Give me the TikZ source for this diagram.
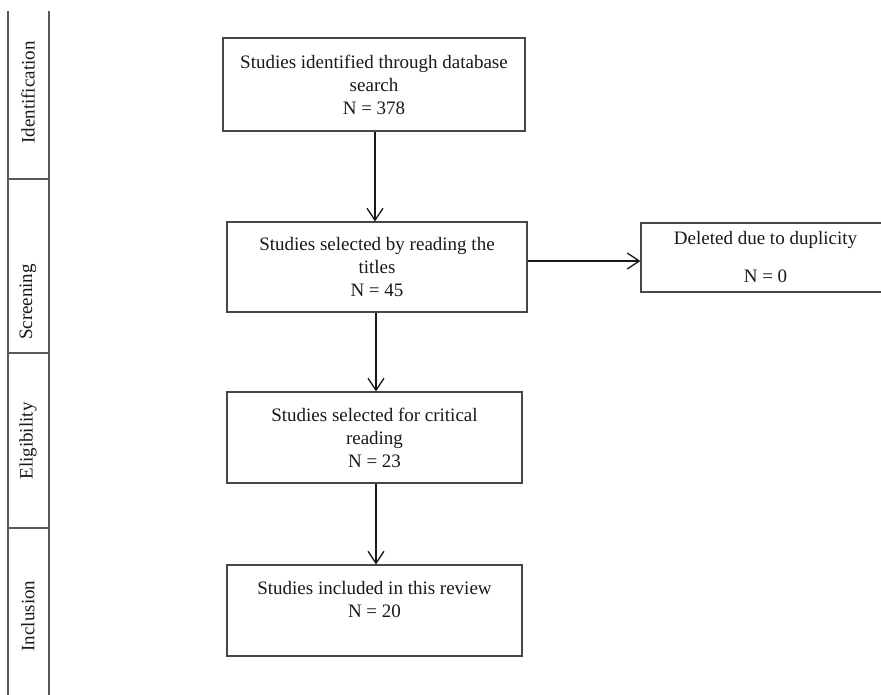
\documentclass[tikz,border=0pt]{standalone}
\usepackage{fontspec}
\setmainfont{Liberation Serif}
\usetikzlibrary{arrows.meta}
\begin{document}
\begin{tikzpicture}[x=1pt,y=-1pt,
  box/.style={draw=black!72, line width=1.1pt, rectangle, align=center, inner sep=0pt,
    font=\fontsize{19}{23}\selectfont, text=black!90},
  arr/.style={draw=black!90, line width=1.3pt, -{Straight Barb[length=12pt,width=16pt,line width=1.3pt]}},
  band/.style={draw=black!65, line width=1.1pt},
  phase/.style={rotate=90, font=\fontsize{19}{23}\selectfont, text=black!90, inner sep=0pt}]
\useasboundingbox (0,0) rectangle (881,695);
\clip (0,0) rectangle (881,695);
\fill[white] (0,0) rectangle (881,695);
% side band
\draw[band] (8,11) -- (8,700);
\draw[band] (49,11) -- (49,700);
\draw[band] (8,179) -- (49,179);
\draw[band] (8,353) -- (49,353);
\draw[band] (8,528) -- (49,528);
\node[phase] (pid) at (28,92.5) {Identification};
\node[phase] (psc) at (28,302) {Screening};
\node[phase] (pel) at (28,441) {Eligibility};
\node[phase] (pin) at (28,616) {Inclusion};
% boxes
\node[box, minimum width=302pt, minimum height=93pt] (b1) at (374,84.5)
  {Studies identified through database\\ search\\ N = 378};
\node[box, minimum width=300pt, minimum height=90pt] (b2) at (377,267)
  {Studies selected by reading the\\ titles\\ N = 45};
\node[box, minimum width=249pt, minimum height=69pt] (b5) at (765.5,257.5)
  {Deleted due to duplicity\\[15pt] N = 0};
\node[box, minimum width=295pt, minimum height=91pt] (b3) at (374.5,437.5)
  {Studies selected for critical\\ reading\\ N = 23};
\node[box, minimum width=295pt, minimum height=91pt] (b4) at (374.5,610.5)
  {Studies included in this review\\ N = 20\\ \mbox{}};
% connectors
\draw[arr] (b1.south -| 375,0) -- (b2.north -| 375,0);
\draw[arr] (b2.south -| 376,0) -- (b3.north -| 376,0);
\draw[arr] (b3.south -| 376,0) -- (b4.north -| 376,0);
\draw[arr] (b2.east |- 0,261) -- (b5.west |- 0,261);
\end{tikzpicture}
\end{document}
